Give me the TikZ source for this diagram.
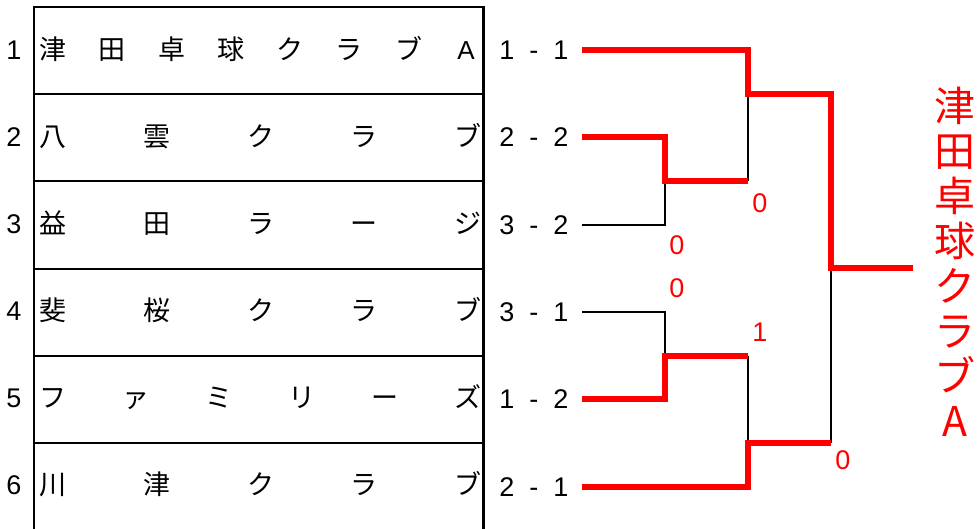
\documentclass[tikz,border=0pt]{standalone}
\usepackage{fontspec}
\setmainfont{Liberation Sans}
\newfontfamily\jpfont{Noto Sans CJK JP}
\tikzset{
  gridline/.style={line width=2.5pt, black, line join=miter},
  winline/.style={line width=5.5pt, red, line join=miter},
  loseline/.style={line width=2.5pt, black},
  seedno/.style={font=\fontsize{27}{30}\selectfont, inner sep=0pt, anchor=base},
  namech/.style={font=\jpfont\fontsize{27}{30}\selectfont, inner sep=0pt, anchor=base},
  latinch/.style={font=\fontsize{26}{30}\selectfont, inner sep=0pt, anchor=base},
  scorebox/.style={font=\fontsize{27}{30}\selectfont, inner sep=0pt, anchor=base},
  redlab/.style={font=\fontsize{27}{30}\selectfont, text=red, inner sep=0pt, anchor=center},
  bigch/.style={font=\jpfont\fontsize{41}{45}\selectfont, text=red, inner sep=0pt, anchor=base},
}
\newcommand{\scoretxt}[2]{\makebox[14pt]{#1}\makebox[40pt]{-}\makebox[14pt]{#2}}
\begin{document}
\begin{tikzpicture}[x=1pt,y=-1pt]
\useasboundingbox (0,0) rectangle (978,529);
% table
\draw[gridline] (34,532) -- (34,7) -- (483.5,7) -- (483.5,532);
\foreach \yy in {94,181,269,356,443} \draw[gridline] (34,\yy) -- (483.5,\yy);
% seed numbers
\foreach \k in {1,...,6} \node[seedno] (no\k) at (14,{50+86.9*(\k-1)+10}) {\k};
% names
\def\ya{60}\def\yb{146.9}\def\yc{233.8}\def\yd{320.7}\def\ye{407.6}\def\yf{494.5}
\foreach [count=\i from 0] \c in {津,田,卓,球,ク,ラ,ブ}
  \node[namech] (na\i) at ({53+\i*415/7},\ya) {\c};
\node[latinch] (na7) at (466,\ya) {A};
\foreach [count=\i from 0] \c in {八,雲,ク,ラ,ブ}
  \node[namech] (nb\i) at ({53+\i*103.75},\yb) {\c};
\foreach [count=\i from 0] \c in {益,田,ラ,ー,ジ}
  \node[namech] (nc\i) at ({53+\i*103.75},\yc) {\c};
\foreach [count=\i from 0] \c in {斐,桜,ク,ラ,ブ}
  \node[namech] (nd\i) at ({53+\i*103.75},\yd) {\c};
\foreach [count=\i from 0] \c in {フ,ァ,ミ,リ,ー,ズ}
  \node[namech] (ne\i) at ({53+\i*83},\ye) {\c};
\foreach [count=\i from 0] \c in {川,津,ク,ラ,ブ}
  \node[namech] (nf\i) at ({53+\i*103.75},\yf) {\c};
% scores
\node[scorebox] (s1) at (534,59.5) {\scoretxt{1}{1}};
\node[scorebox] (s2) at (534,146.5) {\scoretxt{2}{2}};
\node[scorebox] (s3) at (534,234.5) {\scoretxt{3}{2}};
\node[scorebox] (s4) at (534,321.5) {\scoretxt{3}{1}};
\node[scorebox] (s5) at (534,408.5) {\scoretxt{1}{2}};
\node[scorebox] (s6) at (534,496.5) {\scoretxt{2}{1}};
% bracket coordinates
\coordinate (e1) at (582,50);
\coordinate (e2) at (582,137);
\coordinate (e3) at (582,225);
\coordinate (e4) at (582,312);
\coordinate (e5) at (582,399);
\coordinate (e6) at (582,487);
\coordinate (q1) at (665,181);
\coordinate (q2) at (665,356);
\coordinate (r1) at (748,94);
\coordinate (r2) at (748,443);
\coordinate (f) at (831,268);
\coordinate (w) at (913,268);
% losing lines
\draw[loseline] (e3) -| (q1);
\draw[loseline] (q1 -| r1) -- (r1);
\draw[loseline] (e4) -| (q2);
\draw[loseline] (q2 -| r2) -- (r2);
\draw[loseline] (r2 -| f) -- (f);
% winning lines
\draw[winline] (e1) -| (r1) -| (f) -- (w);
\draw[winline] (e2) -| (q1) -- (q1 -| r1);
\draw[winline] (e5) -| (q2) -- (q2 -| r2);
\draw[winline] (e6) -| (r2) -- (r2 -| f);
% game scores
\node[redlab] (g1) at (760,203) {0};
\node[redlab] (g2) at (677,245) {0};
\node[redlab] (g3) at (677,288) {0};
\node[redlab] (g4) at (760,332) {1};
\node[redlab] (g5) at (843,460) {0};
% winner
\foreach [count=\i from 0] \c in {津,田,卓,球,ク,ラ,ブ,A}
  \node[bigch] (wn\i) at (955,{122+\i*45}) {\c};
\end{tikzpicture}
\end{document}
